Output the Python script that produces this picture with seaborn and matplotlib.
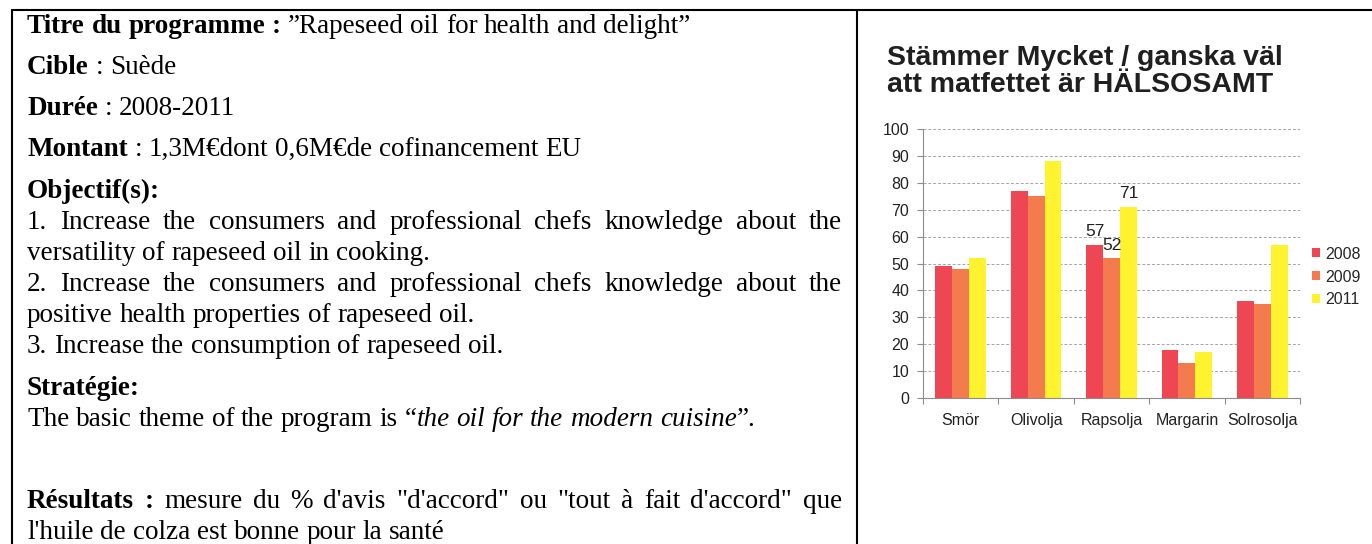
import matplotlib
matplotlib.use("Agg")
import matplotlib.pyplot as plt
import pandas as pd
import seaborn as sns
from matplotlib.lines import Line2D

# chart data
categories = ["Smör", "Olivolja", "Rapsolja", "Margarin", "Solrosolja"]
years = ["2008", "2009", "2011"]
values_2008 = [49, 77, 57, 18, 36]
values_2009 = [48, 75, 52, 13, 35]
values_2011 = [52, 88, 71, 17, 57]
labelled_category = "Rapsolja"
year_colors = ["#ee4753", "#f47b4e", "#fff22e"]
chart_title = ["Stämmer Mycket / ganska väl", "att matfettet är HÄLSOSAMT"]

# left cell text, one entry per printed line: (baseline y, runs, justified)
text_lines = [
    (33, [("Titre du programme :", "b"), (" ”Rapeseed oil for health and delight”", "n")], False),
    (74, [("Cible", "b"), (" : Suède", "n")], False),
    (115, [("Durée", "b"), (" : 2008-2011", "n")], False),
    (156, [("Montant", "b"), (" : 1,3M€dont 0,6M€de cofinancement EU", "n")], False),
    (198, [("Objectif(s):", "b")], False),
    (229, [("1. Increase the consumers and professional chefs knowledge about the", "n")], True),
    (260, [("versatility of rapeseed oil in cooking.", "n")], False),
    (291, [("2. Increase the consumers and professional chefs knowledge about the", "n")], True),
    (322, [("positive health properties of rapeseed oil.", "n")], False),
    (353, [("3. Increase the consumption of rapeseed oil.", "n")], False),
    (395, [("Stratégie:", "b")], False),
    (426, [("The basic theme of the program is “", "n"), ("the oil for the modern cuisine", "i"), ("”.", "n")], False),
    (508, [("Résultats :", "b"), (" mesure du % d'avis \"d'accord\" ou \"tout à fait d'accord\" que", "n")], True),
    (539, [("l'huile de colza est bonne pour la santé", "n")], False),
]

W, H = 1372, 544
SERIF = ["Liberation Serif", "DejaVu Serif"]
SANS = ["Liberation Sans", "DejaVu Sans"]
NARROW = ["Liberation Sans Narrow", "Liberation Sans", "DejaVu Sans"]
BODY_SIZE = 19.5


def style_kw(st):
    return {"fontweight": "bold" if st == "b" else "normal",
            "fontstyle": "italic" if st == "i" else "normal"}


def draw_line(page, renderer, y, runs, justify, x0=27, x1=842):
    words = [[]]
    for text, st in runs:
        for i, part in enumerate(text.split(" ")):
            if i > 0:
                words.append([])
            if part:
                words[-1].append((part, st))
    words = [w for w in words if w]

    def width(piece, st):
        t = page.text(0, 0, piece, fontsize=BODY_SIZE, family=SERIF, **style_kw(st))
        w = t.get_window_extent(renderer).width
        t.remove()
        return w

    widths = [[width(p, st) for p, st in w] for w in words]
    space = BODY_SIZE * 100 / 72 * 0.25
    if justify and len(words) > 1:
        space = (x1 - x0 - sum(sum(w) for w in widths)) / (len(words) - 1)
    x = x0
    for w, ws in zip(words, widths):
        for (p, st), pw in zip(w, ws):
            page.text(x, y, p, fontsize=BODY_SIZE, family=SERIF, color="black",
                      va="baseline", ha="left", **style_kw(st))
            x += pw
        x += space


def main():
    sns.set_theme(style="white")
    fig = plt.figure(figsize=(W / 100, H / 100), dpi=100)
    page = fig.add_axes([0, 0, 1, 1])
    page.set_xlim(0, W)
    page.set_ylim(H, 0)
    page.axis("off")
    renderer = fig.canvas.get_renderer()

    # table borders
    for xs, ys in [((12, W), (9.5, 9.5)), ((12, 12), (9.5, H)), ((857, 857), (9.5, H))]:
        page.add_line(Line2D(xs, ys, color="black", linewidth=1.5))

    for y, runs, justify in text_lines:
        draw_line(page, renderer, y, runs, justify)

    # chart title
    page.text(887, 65, chart_title[0], fontsize=20.5, fontweight="bold", family=SANS,
              color="#1f1f1f", va="baseline")
    page.text(887, 92, chart_title[1], fontsize=20.5, fontweight="bold", family=SANS,
              color="#1f1f1f", va="baseline")

    df = pd.DataFrame({
        "oil": categories * 3,
        "year": [y for y in years for _ in categories],
        "value": values_2008 + values_2009 + values_2011,
    })

    ax = fig.add_axes([923 / W, 1 - 398 / H, 377 / W, 269 / H])
    sns.barplot(data=df, x="oil", y="value", hue="year", palette=year_colors,
                width=0.67, gap=0, saturation=1, linewidth=0, ax=ax)

    for container, vals in zip(ax.containers, [values_2008, values_2009, values_2011]):
        labels = [str(v) if c == labelled_category else "" for c, v in zip(categories, vals)]
        ax.bar_label(container, labels=labels, padding=4, fontsize=12.5,
                     family=NARROW, color="#222222")

    ax.set_xlim(-0.5, len(categories) - 0.5)
    ax.set_ylim(0, 100)
    ax.set_yticks(range(0, 101, 10))
    ax.set_xticks(range(len(categories)))
    ax.set_xticks([i - 0.5 for i in range(len(categories) + 1)], minor=True)
    ax.set_xlabel("")
    ax.set_ylabel("")
    ax.yaxis.grid(True, linestyle=(0, (3, 2)), color="#a5a5a5", linewidth=0.7)
    ax.set_axisbelow(True)
    for side in ["top", "right"]:
        ax.spines[side].set_visible(False)
    for side in ["left", "bottom"]:
        ax.spines[side].set_color("#8c8c8c")
        ax.spines[side].set_linewidth(0.8)
    ax.tick_params(axis="y", which="major", left=True, length=4, width=0.8,
                   color="#8c8c8c", pad=6, labelsize=11.5, labelcolor="#222222")
    ax.tick_params(axis="x", which="major", bottom=False, pad=5, labelsize=11.5,
                   labelcolor="#222222")
    ax.tick_params(axis="x", which="minor", bottom=True, length=4, width=0.8, color="#8c8c8c")
    for lab in ax.get_xticklabels() + ax.get_yticklabels():
        lab.set_family(NARROW)

    handles, labels = ax.get_legend_handles_labels()
    ax.legend(handles, labels, loc="center left", bbox_to_anchor=(1312 / W, 1 - 277 / H),
              bbox_transform=fig.transFigure, frameon=False, handlelength=0.5,
              handleheight=0.5, handletextpad=0.35, labelspacing=0.5, borderpad=0,
              borderaxespad=0, prop={"family": NARROW, "size": 11.5})

    fig.savefig("out.png", dpi=100)
    plt.close(fig)


if __name__ == "__main__":
    main()
